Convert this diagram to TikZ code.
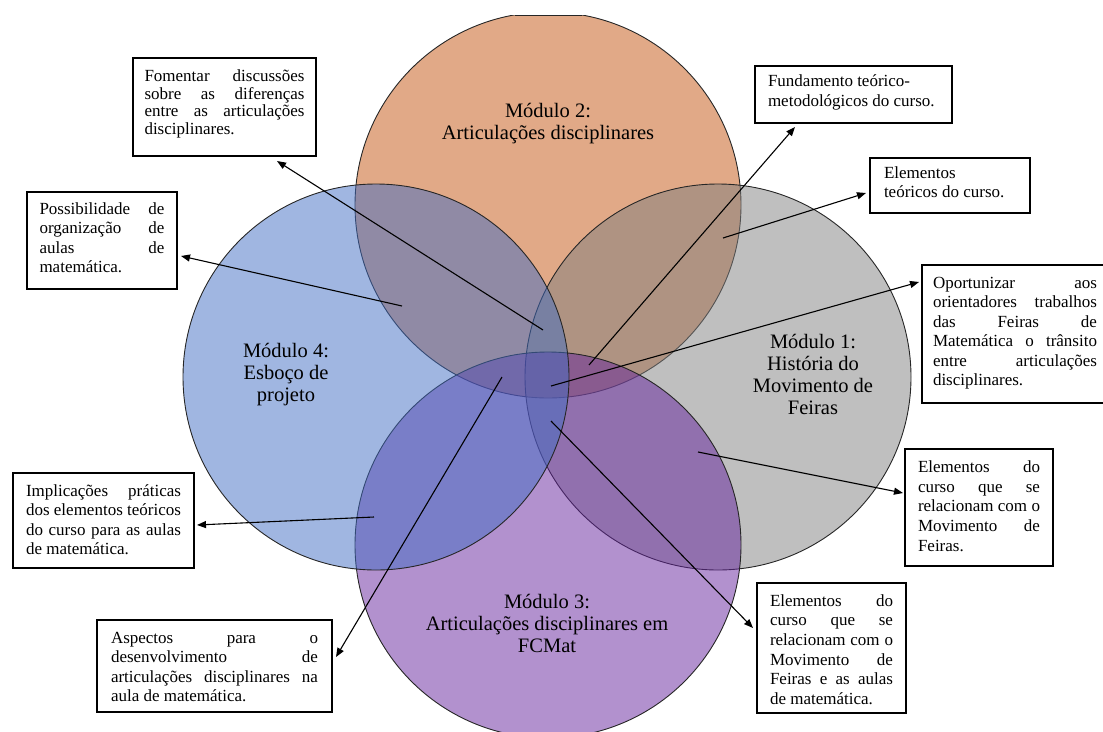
\documentclass[tikz,border=0pt]{standalone}
\usepackage{fontspec}
\setmainfont{Liberation Serif}
\usetikzlibrary{arrows.meta,calc}

\definecolor{vennorange}{RGB}{195,83,15}
\definecolor{venngray}{RGB}{127,127,127}
\definecolor{vennpurple}{RGB}{101,35,157}
\definecolor{vennblue}{RGB}{65,109,195}

% one justified line, spaces share the slack evenly
\newcommand\jl[1]{\hbox to\hsize{\spaceskip=.25em plus 1fil minus .06em\relax#1}}
% one left-aligned line
\newcommand\rl[1]{\hbox to\hsize{#1\hfil}}
% card body: font size, height, text width, first baseline, baseline skip, lines
\newcommand\cardbody[6]{\parbox[c][#2][t]{#3}{\fontsize{#1}{#5}\selectfont\vskip\dimexpr#4-#5\relax\hbox{}#6}}

\begin{document}
\begin{tikzpicture}[x=1pt,y=-1pt,
  ring/.style={draw=black!85,line width=0.9pt,fill opacity=0.5},
  card/.style={draw=black,line width=1.1pt,fill=white,anchor=north west,inner ysep=0pt,outer sep=0pt},
  arr/.style={line width=1.1pt,-{Triangle[length=9pt,width=7pt]}},
  modlabel/.style={align=center,font=\fontsize{20.5pt}{22pt}\selectfont,inner sep=0pt}]
\useasboundingbox (0,0) rectangle (1103,731);

% the four modules
\begin{scope}
  \clip (0,15) rectangle (1103,731);
  \path[ring,fill=vennorange] (548,205) circle[radius=193pt];
  \draw[black!85,line width=0.9pt] (514.5,15) -- (581.5,15);
  \path[ring,fill=venngray]   (718,377) circle[radius=193pt];
  \path[ring,fill=vennpurple] (548,545) circle[radius=193pt];
  \path[ring,fill=vennblue]   (376,377) circle[radius=193pt];
\end{scope}

\node[modlabel] (m2) at (548,124) {Módulo 2:\\Articulações disciplinares};
\node[modlabel] (m4) at (286,375) {Módulo 4:\\Esboço de\\projeto};
\node[modlabel] (m1) at (813,374) {Módulo 1:\\História do\\Movimento de\\Feiras};
\node[modlabel] (m3) at (547,623) {Módulo 3:\\Articulações disciplinares em\\FCMat};

% description cards
\node[card,inner xsep=11.5pt] (fomentar) at (133,58)
  {\cardbody{17pt}{98pt}{160pt}{23.4pt}{17.7pt}{%
    \jl{Fomentar discussões}\jl{sobre as diferenças}\jl{entre as articulações}\rl{disciplinares.}}};
\node[card,inner xsep=13pt] (fundamento) at (755,66)
  {\cardbody{17pt}{57pt}{171pt}{20pt}{20pt}{%
    \rl{Fundamento teórico-}\rl{metodológicos do curso.}}};
\node[card,inner xsep=14pt] (teoricos) at (870,158)
  {\cardbody{17pt}{55pt}{132pt}{20pt}{19.5pt}{%
    \rl{Elementos}\rl{teóricos do curso.}}};
\node[card,inner xsep=12.5pt] (possib) at (27,192)
  {\cardbody{17pt}{97pt}{125pt}{22pt}{19.5pt}{%
    \jl{Possibilidade de}\jl{organização de}\jl{aulas de}\rl{matemática.}}};
\node[card,inner xsep=11pt] (oport) at (922,265)
  {\cardbody{17pt}{138pt}{164pt}{23pt}{19.5pt}{%
    \jl{Oportunizar aos}\jl{orientadores trabalhos}\jl{das Feiras de}\jl{Matemática o trânsito}\jl{entre articulações}\rl{disciplinares.}}};
\node[card,inner xsep=13pt] (implic) at (13,473)
  {\cardbody{17pt}{95pt}{155pt}{23pt}{19.5pt}{%
    \jl{Implicações práticas}\jl{dos elementos teóricos}\jl{do curso para as aulas}\rl{de matemática.}}};
\node[card,inner xsep=13pt] (relmov) at (905,449)
  {\cardbody{17pt}{117pt}{122pt}{23.4pt}{19.7pt}{%
    \jl{Elementos do}\jl{curso que se}\jl{relacionam com o}\jl{Movimento de}\rl{Feiras.}}};
\node[card,inner xsep=14pt] (aspectos) at (97,620)
  {\cardbody{17pt}{92pt}{207pt}{23pt}{19.5pt}{%
    \jl{Aspectos para o}\jl{desenvolvimento de}\jl{articulações disciplinares na}\rl{aula de matemática.}}};
\node[card,inner xsep=13pt] (relaulas) at (757,583)
  {\cardbody{17pt}{130pt}{123pt}{23pt}{19.7pt}{%
    \jl{Elementos do}\jl{curso que se}\jl{relacionam com o}\jl{Movimento de}\jl{Feiras e as aulas}\rl{de matemática.}}};

% points inside the overlaps where the pointers start
\coordinate (sFomentar)   at (543,330);
\coordinate (sFundamento) at (589,365);
\coordinate (sTeoricos)   at (723,238);
\coordinate (sPossib)     at (402,306);
\coordinate (sOport)      at (551,386);
\coordinate (sRelmov)     at (698,452);
\coordinate (sImplic)     at (374,517);
\coordinate (sAspectos)   at (502,377);
\coordinate (sRelaulas)   at (551,421);

\draw[arr] (sFomentar)   -- ($(fomentar.south west)+(144,5)$);
\draw[arr] (sFundamento) -- ($(fundamento.south west)+(40,4)$);
\draw[arr] (sTeoricos)   -- ($(teoricos.north west)+(-4,35)$);
\draw[arr] (sPossib)     -- ($(possib.north east)+(4,64)$);
\draw[arr] (sOport)      -- ($(oport.north west)+(-3,17)$);
\draw[arr] (sRelmov)     -- ($(relmov.north west)+(-2,44)$);
\draw[arr] (sImplic)     -- ($(implic.north east)+(3,52)$);
\draw[arr] (sAspectos)   -- ($(aspectos.north east)+(4,37)$);
\draw[arr] (sRelaulas)   -- ($(relaulas.north west)+(-4,45)$);
\end{tikzpicture}
\end{document}
